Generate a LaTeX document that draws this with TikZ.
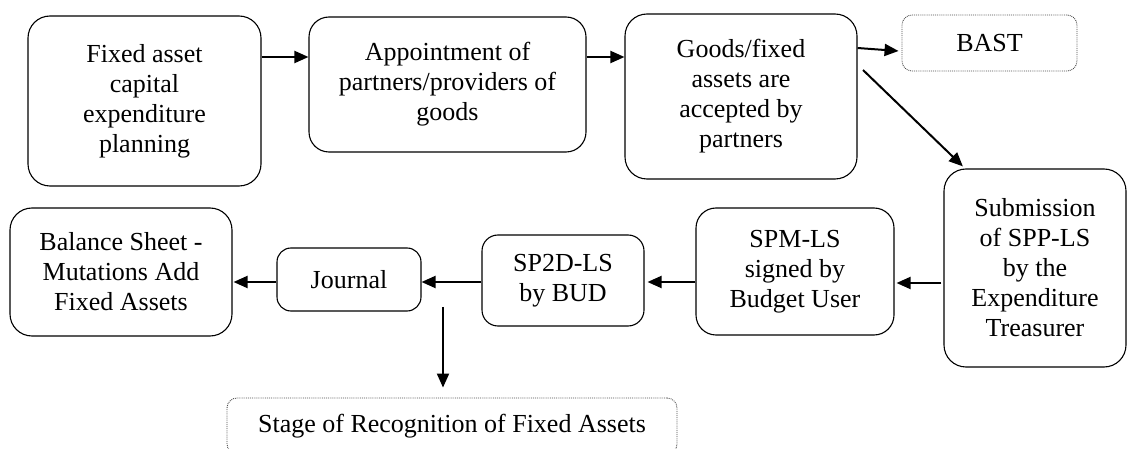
\documentclass[tikz,border=0pt]{standalone}
\usepackage{fontspec}
\newfontfamily\tms{Liberation Serif}
\usetikzlibrary{arrows.meta}
\begin{document}
\begin{tikzpicture}[x=1pt,y=-1pt,
  txt/.style={align=center,inner sep=0pt,font=\tms\fontsize{26}{30}\selectfont},
  box/.style={txt,draw,line width=1.1pt,rounded corners=#1},
  box/.default=22pt,
  dotbox/.style={txt,draw=black!70,densely dotted,line width=0.9pt,rounded corners=10pt},
  arr/.style={line width=2pt,-{Triangle[length=14pt,width=12pt]}}]
\useasboundingbox (0,0) rectangle (1128,449);
\clip (0,0) rectangle (1128,449);
\node[box, minimum width=233pt, minimum height=170pt] (b1) at (144.5,101) {Fixed asset\\capital\\expenditure\\planning};
\node[box=20pt, minimum width=277pt, minimum height=135pt] (b2) at (447.5,84.5) {Appointment of\\partners/providers of\\goods};
\node[box, minimum width=232pt, minimum height=165pt] (b3) at (741,96.5) {Goods/fixed\\assets are\\accepted by\\partners};
\node[dotbox, minimum width=175pt, minimum height=56pt] (bast) at (989.5,43) {BAST};
\node[box, minimum width=182pt, minimum height=198pt] (sub) at (1035,268) {Submission\\of SPP-LS\\by the\\Expenditure\\Treasurer};
\node[box=20pt, minimum width=198pt, minimum height=127pt] (spm) at (795,271.5) {SPM-LS\\signed by\\Budget User};
\node[box=16pt, minimum width=162pt, minimum height=91pt] (sp2d) at (563,280.5) {SP2D-LS\\by BUD};
\node[box=14pt, minimum width=144pt, minimum height=63pt] (jour) at (349,279.5) {Journal};
\node[box, minimum width=222pt, minimum height=128pt] (bal) at (121,272) {Balance Sheet -\\Mutations Add\\Fixed Assets};
\node[dotbox, minimum width=450pt, minimum height=56pt] (stage) at (452,426) {Stage of Recognition of Fixed Assets};
\draw[arr] (b1.east |- 0,57) -- (b2.west |- 0,57);
\draw[arr] (b2.east |- 0,57) -- (b3.west |- 0,57);
\draw[arr] (b3.east |- 0,48) -- ([xshift=-3pt]bast.west |- 0,51);
\coordinate (dg) at (863,70);
\draw[arr, shorten >=3pt] (dg) -- (sub.north -| 965,0);
\draw[arr] ([xshift=-2pt]sub.west |- 0,283) -- ([xshift=2pt]spm.east |- 0,283);
\draw[arr] (spm.west |- 0,282) -- ([xshift=3pt]sp2d.east |- 0,282);
\draw[arr] (sp2d.west |- 0,282) -- (jour.east |- 0,282);
\draw[arr] (jour.west |- 0,282) -- ([xshift=1pt]bal.east |- 0,282);
\coordinate (dn) at (443,307);
\draw[arr, shorten >=10pt] (dn) -- (stage.north -| dn);
\end{tikzpicture}
\end{document}
